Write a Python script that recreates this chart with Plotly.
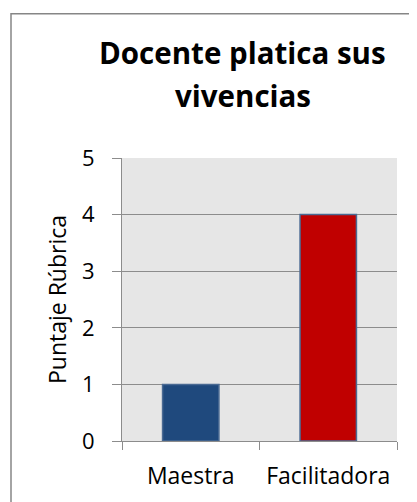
import plotly.graph_objects as go

categories = ["Maestra", "Facilitadora"]
values = [1, 4]
bar_colors = ["#1F497D", "#C00000"]
y_ticks = [0, 1, 2, 3, 4, 5]
title_line1 = "Docente platica sus"
title_line2 = "vivencias"
y_title = "Puntaje Rúbrica"

OFF = 8  # default body margin of the html page
W, H = 417 - OFF, 502 - OFF
# plot area in window pixels: x 122..397, y 158..441.5
L = 122 - OFF
R = W - (397 - OFF)
T = 158 - OFF
B = H - (441.5 - OFF)
pw, ph = W - L - R, H - T - B

FONT = "Open Sans"

def px_to_paper_x(x):
    return (x - OFF - L) / pw

def px_to_paper_y(y):
    return (H - B - (y - OFF)) / ph

fig = go.Figure()
fig.add_trace(go.Bar(
    x=categories, y=values,
    marker=dict(color=bar_colors, line=dict(color="#4A6A93", width=1.5)),
    width=0.41,
))

title_cx = px_to_paper_x(242.5)

fig.update_layout(
    width=W, height=H,
    margin=dict(l=L, r=R, t=T, b=B, pad=0, autoexpand=False),
    paper_bgcolor="white",
    plot_bgcolor="#E6E6E6",
    showlegend=False,
    font=dict(family=FONT, color="black"),
    xaxis=dict(
        type="category",
        automargin=False,
        showgrid=False,
        showline=True, linecolor="#8C8C8C", linewidth=1,
        ticks="outside", tickson="boundaries", ticklen=8, tickcolor="#8C8C8C",
        tickfont=dict(family=FONT, size=23, color="black"),
        ticklabelstandoff=14,
        range=[-0.5, 1.5],
    ),
    yaxis=dict(
        automargin=False,
        range=[0, 5],
        tickvals=y_ticks,
        showgrid=True, gridcolor="#8C8C8C", gridwidth=1,
        showline=True, linecolor="#8C8C8C", linewidth=1,
        ticks="outside", ticklen=9, tickcolor="#8C8C8C",
        tickfont=dict(family=FONT, size=22, color="black"),
        ticklabelstandoff=13,
        title=dict(text=y_title, font=dict(family=FONT, size=23, color="black"), standoff=8),
        zeroline=False,
    ),
    annotations=[
        dict(text="<b>" + title_line1 + "</b>", xref="paper", yref="paper",
             x=title_cx, y=px_to_paper_y(67), xanchor="center", yanchor="bottom",
             yshift=-8, showarrow=False,
             font=dict(family=FONT, size=29.5, color="black")),
        dict(text="<b>" + title_line2 + "</b>", xref="paper", yref="paper",
             x=title_cx, y=px_to_paper_y(110), xanchor="center", yanchor="bottom",
             yshift=-8, showarrow=False,
             font=dict(family=FONT, size=29.5, color="black")),
    ],
    shapes=[dict(
        type="rect", xref="paper", yref="paper",
        x0=px_to_paper_x(11), x1=px_to_paper_x(440),
        y0=px_to_paper_y(530), y1=px_to_paper_y(13.5),
        line=dict(color="#868686", width=1.5),
        fillcolor="rgba(0,0,0,0)",
        layer="below",
    )],
)

fig.write_html("out.html")
